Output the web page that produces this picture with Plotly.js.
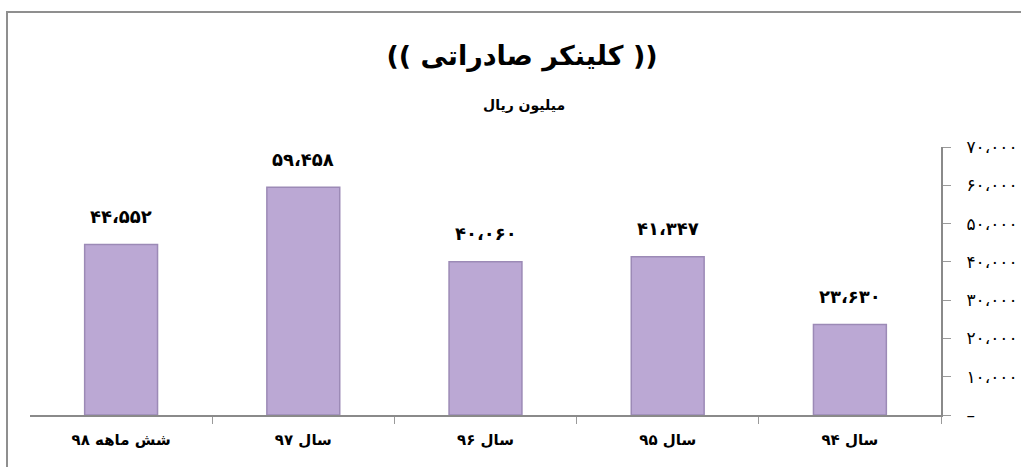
<!DOCTYPE html>
<html>
<head>
<meta charset="utf-8">
<script src="https://cdn.plot.ly/plotly-3.0.1.min.js"></script>
<style>
html,body{margin:0;padding:0;background:#fff;}
#chart{width:1021px;height:467px;}
</style>
</head>
<body>
<div id="chart"></div>
<script>
const categories = ["سال ۹۴", "سال ۹۵", "سال ۹۶", "سال ۹۷", "شش ماهه ۹۸"];
const values = [23630, 41347, 40060, 59458, 44552];
const yTickVals = [0, 10000, 20000, 30000, 40000, 50000, 60000, 70000];
const yTickText = ["–", "۱۰،۰۰۰", "۲۰،۰۰۰", "۳۰،۰۰۰", "۴۰،۰۰۰", "۵۰،۰۰۰", "۶۰،۰۰۰", "۷۰،۰۰۰"];
const titleText = "(( کلینکر صادراتی ))";
const subtitleText = "میلیون ریال";

function toFa(n){
  const d = "۰۱۲۳۴۵۶۷۸۹";
  const s = String(n).replace(/\B(?=(\d{3})+(?!\d))/g, "،");
  return s.replace(/\d/g, c => d[+c]);
}

const FONT = "DejaVu Sans, sans-serif";

const trace = {
  type: "bar",
  x: categories,
  y: values,
  width: 0.40,
  marker: {color: "#BBA8D4", line: {color: "#9C8AB6", width: 1.5}},
  hoverinfo: "skip"
};

const annotations = categories.map((c, i) => ({
  x: c, y: values[i], xref: "x", yref: "y",
  text: "<b>" + toFa(values[i]) + "</b>",
  showarrow: false, yshift: 28,
  font: {family: FONT, size: 18, color: "#000"}
}));
annotations.push({
  x: (524-30)/911, xref: "paper", y: (415-105)/268, yref: "paper",
  yanchor: "middle",
  text: "<b>" + subtitleText + "</b>", showarrow: false,
  font: {family: FONT, size: 14, color: "#000"}
});

const layout = {
  width: 1021, height: 467,
  margin: {l: 30, r: 80, t: 147, b: 52},
  paper_bgcolor: "#fff", plot_bgcolor: "#fff",
  showlegend: false,
  title: {text: "<b>" + titleText + "</b>", x: 522/1021, xref: "container", xanchor: "center",
          y: 1 - 56/467, yref: "container", yanchor: "middle",
          font: {family: FONT, size: 27, color: "#000"}},
  xaxis: {
    autorange: "reversed", type: "category",
    showline: true, linecolor: "#8a8a8a", linewidth: 2,
    ticks: "outside", tickson: "boundaries", ticklen: 7, tickcolor: "#9a9a9a", tickwidth: 1,
    showgrid: false, zeroline: false, tickangle: 0,
    ticklabelstandoff: 10,
    tickfont: {family: FONT, size: 15, color: "#000", weight: "bold"}
  },
  yaxis: {
    side: "right", range: [0, 70000],
    tickvals: yTickVals, ticktext: yTickText,
    showline: true, linecolor: "#8a8a8a", linewidth: 2,
    ticks: "outside", ticklen: 8, tickcolor: "#9a9a9a", tickwidth: 1,
    showgrid: false, zeroline: false,
    tickfont: {family: FONT, size: 17, color: "#000"},
    ticklabelstandoff: 12
  },
  annotations: annotations,
  shapes: [{
    type: "rect", xref: "paper", yref: "paper",
    x0: -23/911, x1: 1.3, y0: -0.5, y1: (415-12)/268,
    line: {color: "#8f8f8f", width: 2}
  }]
};

Plotly.newPlot("chart", [trace], layout, {staticPlot: true, displayModeBar: false});
</script>
</body>
</html>
